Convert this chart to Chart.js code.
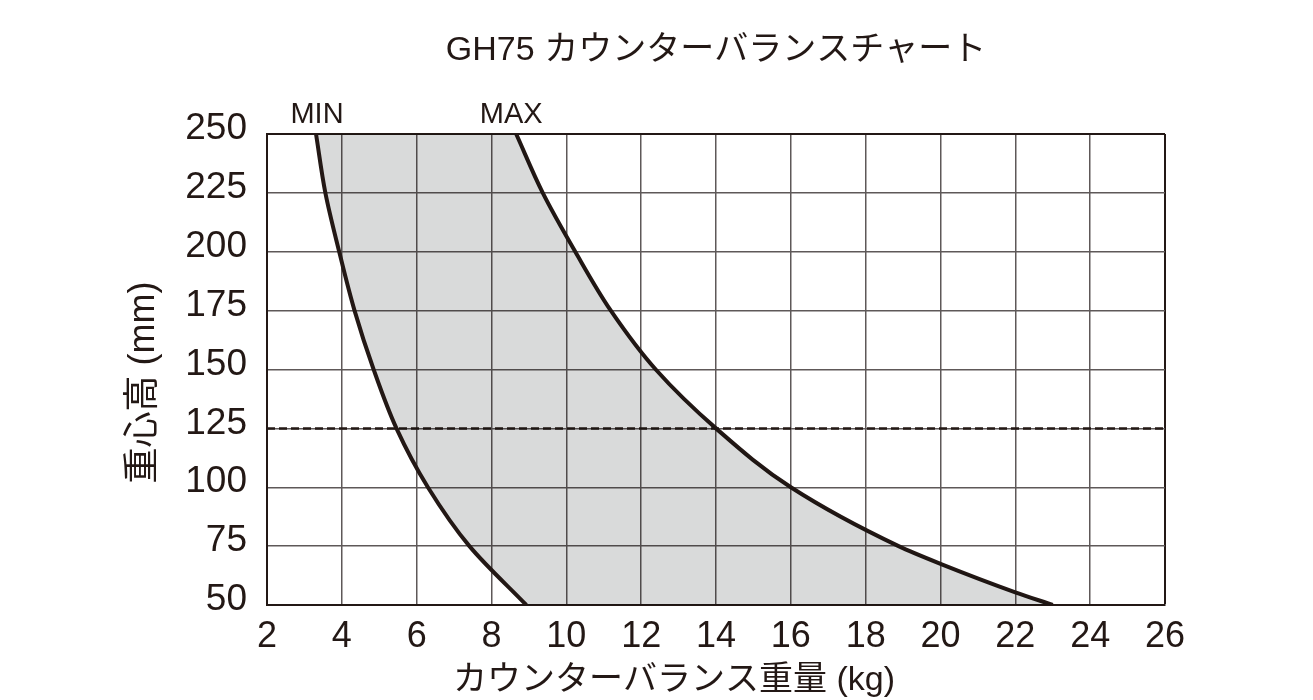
<!DOCTYPE html>
<html><head><meta charset="utf-8">
<script src="https://cdn.jsdelivr.net/npm/chart.js@4.4.1/dist/chart.umd.min.js"></script>
<style>html,body{margin:0;padding:0;background:#fff}#wrap{width:1313px;height:700px}</style>
</head><body><div id="wrap"><canvas id="c" width="1313" height="700"></canvas></div>
<script>
const chartTitle = 'GH75 カウンターバランスチャート';
const xTitle = 'カウンターバランス重量 (kg)';
const yTitle = '重心高 (mm)';
const curveNames = ['MIN', 'MAX'];
const minHeight = [50, 75, 100, 125, 150, 175, 200, 225, 250];
const minWeight = [8.93, 7.41, 6.30, 5.46, 4.85, 4.34, 3.93, 3.56, 3.31];
const maxHeight = [50, 55.4, 67.5, 75, 100, 125, 150, 175, 200, 225, 250];
const maxWeight = [23.0, 22.0, 20.0, 18.88, 16.0, 14.0, 12.39, 11.19, 10.24, 9.37, 8.66];
const refHeight = 125;
const xTicks = [2, 4, 6, 8, 10, 12, 14, 16, 18, 20, 22, 24, 26];
const yTicks = [50, 75, 100, 125, 150, 175, 200, 225, 250];

const INK = '#231815';
const GRID = '#5e5858';
const FONT = '"Liberation Sans", "Noto Sans CJK JP", sans-serif';

const toPts = (ws, hs) => ws.map((w, i) => ({x: w, y: hs[i]}));

const labelPlugin = {
  id: 'curveLabels',
  afterDatasetsDraw(chart) {
    const {ctx, chartArea, scales: {x}} = chart;
    const tops = [minWeight[minWeight.length - 1], maxWeight[maxWeight.length - 1]];
    const shifts = [1, -5];
    ctx.save();
    ctx.font = '29px ' + FONT;
    ctx.fillStyle = INK;
    ctx.textAlign = 'center';
    ctx.textBaseline = 'alphabetic';
    curveNames.forEach((n, i) => ctx.fillText(n, x.getPixelForValue(tops[i]) + shifts[i], chartArea.top - 11));
    ctx.restore();
  }
};

const axisTitlePlugin = {
  id: 'axisTitles',
  afterDraw(chart) {
    const {ctx, chartArea} = chart;
    const cx = (chartArea.left + chartArea.right) / 2;
    const cy = (chartArea.top + chartArea.bottom) / 2;
    ctx.save();
    ctx.fillStyle = INK;
    ctx.textAlign = 'center';
    ctx.textBaseline = 'middle';
    ctx.font = '34px ' + FONT;
    ctx.fillText(xTitle, cx - 42, chart.height - 19);
    ctx.translate(144, cy + 13);
    ctx.rotate(-Math.PI / 2);
    ctx.font = '36px ' + FONT;
    ctx.fillText(yTitle, 0, 0);
    ctx.restore();
  }
};

new Chart(document.getElementById('c'), {
  type: 'line',
  data: {
    datasets: [
      {
        label: curveNames[0],
        data: toPts(minWeight, minHeight),
        borderColor: INK, borderWidth: 4, pointRadius: 0,
        cubicInterpolationMode: 'monotone',
        fill: '+1', backgroundColor: 'rgba(0,5,10,0.148)'
      },
      {
        label: curveNames[1],
        data: toPts(maxWeight, maxHeight),
        borderColor: INK, borderWidth: 4, pointRadius: 0,
        cubicInterpolationMode: 'monotone',
        fill: false
      },
      {
        label: 'ref',
        data: [{x: xTicks[0], y: refHeight}, {x: xTicks[xTicks.length - 1], y: refHeight}],
        borderColor: INK, borderWidth: 2.5, borderDash: [8, 4], pointRadius: 0,
        tension: 0, fill: false
      }
    ]
  },
  options: {
    indexAxis: 'y',
    responsive: false,
    animation: false,
    devicePixelRatio: 1,
    layout: {padding: {left: 0, right: 148, top: 0, bottom: 0}},
    plugins: {
      legend: {display: false},
      tooltip: {enabled: false},
      title: {
        display: true, text: chartTitle, color: INK, fullSize: false,
        font: {family: FONT, size: 34, weight: 'normal'},
        padding: {top: 30, bottom: 63.2}
      }
    },
    scales: {
      x: {
        type: 'linear', position: 'bottom', min: 2, max: 26,
        afterBuildTicks: s => { s.ticks = xTicks.map(v => ({value: v})); },
        afterFit: s => { s.height = 95; },
        grid: {
          color: c => (c.tick && c.tick.value === 26) ? INK : GRID,
          lineWidth: c => (c.tick && c.tick.value === 26) ? 2 : 1.5,
          drawTicks: false
        },
        border: {color: INK, width: 2},
        ticks: {color: INK, font: {family: FONT, size: 36}, padding: 10, autoSkip: false, maxRotation: 0}
      },
      y: {
        type: 'linear', position: 'left', min: 50, max: 250,
        afterBuildTicks: s => { s.ticks = yTicks.map(v => ({value: v})); },
        afterFit: s => { s.width = 267; },
        grid: {
          color: c => (c.tick && c.tick.value === 250) ? INK : GRID,
          lineWidth: c => (c.tick && c.tick.value === 250) ? 2 : 1.5,
          drawTicks: false
        },
        border: {color: INK, width: 2},
        ticks: {color: INK, font: {family: FONT, size: 37}, padding: 20, labelOffset: -5}
      }
    }
  },
  plugins: [labelPlugin, axisTitlePlugin]
});
</script>
</body></html>
